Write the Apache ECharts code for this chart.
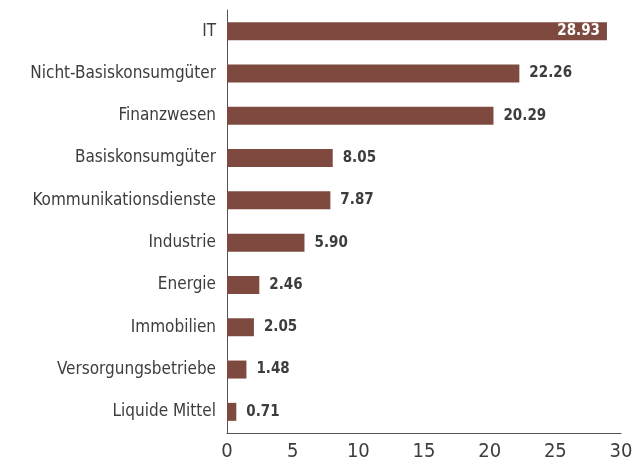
<!DOCTYPE html>
<html>
<head>
<meta charset="utf-8">
<script src="https://cdn.jsdelivr.net/npm/echarts@6/dist/echarts.min.js"></script>
<style>
  html, body { margin: 0; padding: 0; background: #fff; }
  #main { width: 643px; height: 472px; }
</style>
</head>
<body>
<div id="main"></div>
<script>
// Sektoren, von oben nach unten (Kategorie-Achse ist invertiert)
var categories = ['IT', 'Nicht-Basiskonsumgüter', 'Finanzwesen', 'Basiskonsumgüter',
  'Kommunikationsdienste', 'Industrie', 'Energie', 'Immobilien',
  'Versorgungsbetriebe', 'Liquide Mittel'];
var values = [28.93, 22.26, 20.29, 8.05, 7.87, 5.90, 2.46, 2.05, 1.48, 0.71];
var xTicks = [0, 5, 10, 15, 20, 25, 30];

var font = '"Liberation Sans Narrow", "DejaVu Sans Condensed", sans-serif';
var barColor = '#7e4a40';
var textColor = '#3d3d3d';

var myChart = echarts.init(document.getElementById('main'));

var seriesData = values.map(function (v, i) {
  var item = { value: v };
  // der längste Balken trägt die Zahl innen
  if (i === 0) {
    item.label = { position: 'insideRight', color: '#fff', distance: 7 };
  }
  return item;
});

myChart.setOption({
  animation: false,
  grid: { left: 227, right: 22, top: 10, bottom: 39, containLabel: false },
  xAxis: {
    type: 'value',
    min: xTicks[0],
    max: xTicks[xTicks.length - 1],
    interval: 5,
    axisLine: { show: true, lineStyle: { color: '#555', width: 1 } },
    axisTick: { show: false },
    splitLine: { show: false },
    axisLabel: { color: textColor, fontSize: 20, fontFamily: font, margin: 9 }
  },
  yAxis: {
    type: 'category',
    data: categories,
    inverse: true,
    axisLine: { show: true, lineStyle: { color: '#555', width: 1 } },
    axisTick: { show: false },
    axisLabel: { color: textColor, fontSize: 17, fontFamily: font, margin: 11 }
  },
  series: [{
    type: 'bar',
    data: seriesData,
    barWidth: 18,
    itemStyle: { color: barColor },
    label: {
      show: true,
      position: 'right',
      distance: 10,
      color: textColor,
      fontSize: 15,
      fontWeight: 'bold',
      fontFamily: font,
      formatter: function (p) { return p.value.toFixed(2); }
    }
  }]
});
</script>
</body>
</html>
